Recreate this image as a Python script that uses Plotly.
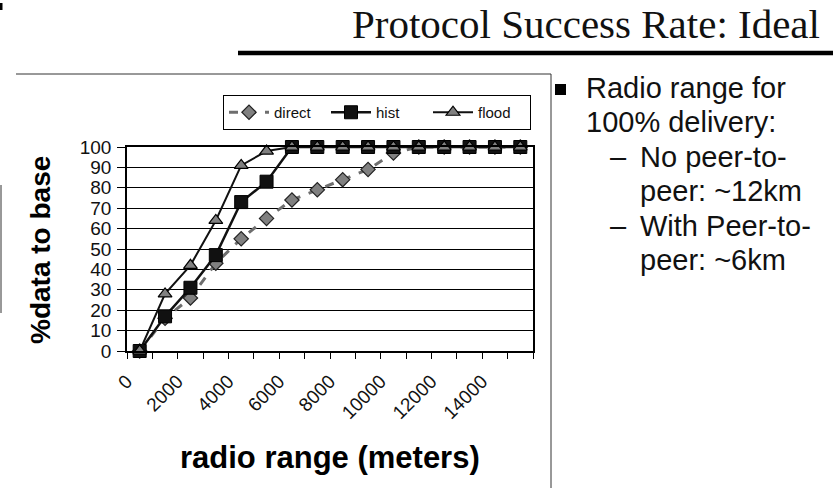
import plotly.graph_objects as go

# ---- data ----
radio_range = [0, 1000, 2000, 3000, 4000, 5000, 6000, 7000, 8000, 9000, 10000, 11000, 12000, 13000, 14000, 15000]
direct = [0, 16, 26, 43, 55, 65, 74, 79, 84, 89, 97, 100, 100, 100, 100, 100]
hist = [0, 17, 31, 47, 73, 83, 100, 100, 100, 100, 100, 100, 100, 100, 100, 100]
flood = [0, 28, 42, 64, 91, 98, 100, 100, 100, 100, 100, 100, 100, 100, 100, 100]
x_tick_vals = [0, 2000, 4000, 6000, 8000, 10000, 12000, 14000]
x_tick_text = ["0", "2000", "4000", "6000", "8000", "10000", "12000", "14000"]
boundaries = [v - 500 for v in radio_range] + [radio_range[-1] + 500]

W, H = 833, 488
L, R, T, B = 127, 533, 147, 351  # plot area pixels


def px(x):
    return (x - L) / (R - L)


def py(y):
    return (B - y) / (B - T)


fig = go.Figure()
fig.add_trace(go.Scatter(
    x=radio_range, y=direct, name="direct", mode="lines+markers",
    line=dict(color="#6e6e6e", width=3, dash="dash"),
    marker=dict(symbol="diamond", size=11, color="#808080", line=dict(color="#222", width=1.2)),
    cliponaxis=False,
))
fig.add_trace(go.Scatter(
    x=radio_range, y=hist, name="hist", mode="lines+markers",
    line=dict(color="#111", width=2.5),
    marker=dict(symbol="square", size=13, color="#111", line=dict(color="#000", width=1)),
    cliponaxis=False,
))
fig.add_trace(go.Scatter(
    x=radio_range, y=flood, name="flood", mode="lines+markers",
    line=dict(color="#111", width=2),
    marker=dict(symbol="triangle-up", size=12, color="#808080", line=dict(color="#000", width=1.2)),
    cliponaxis=False,
))

shapes = [
    # title rule
    dict(type="line", xref="paper", yref="paper", x0=px(238), x1=px(833), y0=py(53), y1=py(53),
         line=dict(color="#000", width=4.5)),
    # chart frame
    dict(type="line", xref="paper", yref="paper", x0=px(16), x1=px(551), y0=py(74), y1=py(74),
         line=dict(color="#333", width=1)),
    dict(type="line", xref="paper", yref="paper", x0=px(551), x1=px(551), y0=py(74), y1=py(488),
         line=dict(color="#333", width=1)),
    # small cut-off slide marks on the left
    dict(type="rect", xref="paper", yref="paper", x0=px(0), x1=px(2.5), y0=py(3), y1=py(10),
         fillcolor="#000", line=dict(width=0)),
    dict(type="line", xref="paper", yref="paper", x0=px(1), x1=px(1), y0=py(185), y1=py(313),
         line=dict(color="#333", width=1)),
    # bullet
    dict(type="rect", xref="paper", yref="paper", x0=px(555), x1=px(566), y0=py(84), y1=py(95),
         fillcolor="#000", line=dict(width=0)),
]

sans = "Liberation Sans, Arial, sans-serif"
annotations = [
    dict(text="Protocol Success Rate: Ideal", x=px(822), y=py(24), xanchor="right", yanchor="middle",
         font=dict(family="Liberation Serif, Times New Roman, serif", size=41, color="#111")),
    dict(text="<b>%data to base</b>", x=px(40), y=py(250), textangle=-90, xanchor="center", yanchor="middle",
         font=dict(family=sans, size=28, color="#000")),
    dict(text="<b>radio range (meters)</b>", x=px(330), y=py(457), xanchor="center", yanchor="middle",
         font=dict(family=sans, size=31, color="#000")),
]
right_lines = [
    ("Radio range for", 584, 88),
    ("100% delivery:", 584, 122),
    ("–", 608, 157),
    ("No peer-to-", 638, 157),
    ("peer: ~12km", 638, 191),
    ("–", 608, 226),
    ("With Peer-to-", 638, 226),
    ("peer: ~6km", 638, 260),
]
for txt, xx, yy in right_lines:
    annotations.append(dict(text=txt, x=px(xx), y=py(yy), xanchor="left", yanchor="middle",
                            font=dict(family=sans, size=29, color="#111")))
for a in annotations:
    a.update(xref="paper", yref="paper", showarrow=False)

fig.update_layout(
    width=W, height=H,
    margin=dict(l=L, r=W - R, t=T, b=H - B, pad=0),
    paper_bgcolor="white", plot_bgcolor="white",
    showlegend=True,
    legend=dict(orientation="h", x=px(223), y=py(95), xanchor="left", yanchor="top",
                bordercolor="#000", borderwidth=1, bgcolor="white",
                font=dict(family=sans, size=15, color="#111"),
                entrywidth=47, entrywidthmode="pixels", itemwidth=40,
                tracegroupgap=0),
    shapes=shapes,
    annotations=annotations,
    font=dict(family=sans, color="#111"),
)
fig.update_xaxes(
    range=[-500, 15500], tickmode="array", tickvals=x_tick_vals, ticktext=x_tick_text,
    tickangle=-45, ticks="", showgrid=False, zeroline=False,
    showline=True, linecolor="#000", linewidth=1.5, mirror=True,
    tickfont=dict(family=sans, size=19, color="#111"),
    ticklabelshift=-13, ticklabelstandoff=10,
    minor=dict(tickmode="array", tickvals=boundaries, ticks="outside", ticklen=6,
               tickcolor="#000", tickwidth=1.2, showgrid=False),
)
fig.update_yaxes(
    range=[0, 100], dtick=10, ticks="outside", ticklen=8, tickcolor="#000", tickwidth=1.2,
    showgrid=True, gridcolor="#000", gridwidth=1, zeroline=False,
    showline=True, linecolor="#000", linewidth=1.5, mirror=True,
    tickfont=dict(family=sans, size=19, color="#111"), ticklabelstandoff=2,
)

fig.write_html("out.html")
